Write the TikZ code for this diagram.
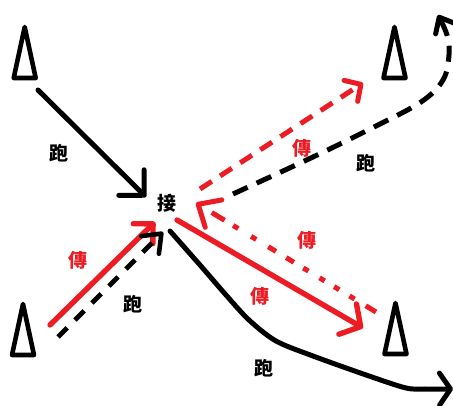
\documentclass[tikz,border=0pt]{standalone}
\usepackage{fontspec}
\usetikzlibrary{arrows.meta}
\newfontfamily\cjk{Noto Sans CJK TC}
\definecolor{sendred}{HTML}{ED1C24}
\tikzset{
  tower/.pic={\draw[line width=4.6pt,line join=round,line cap=round] (0,0) -- (-11,51) -- (11,51) -- cycle;},
  run/.style={font=\cjk\bfseries\fontsize{19}{19}\selectfont,inner sep=0pt},
  send/.style={font=\cjk\bfseries\fontsize{19}{19}\selectfont,text=sendred,inner sep=0pt},
  runline/.style={line width=5pt,black,line cap=round},
  sendline/.style={line width=5.4pt,sendred,line cap=round},
  rundash/.style={line width=4.6pt,black,dash pattern=on 13pt off 11pt},
  senddash/.style={line width=5pt,sendred,dash pattern=on 14pt off 10pt},
  barb/.style 2 args={-{Straight Barb[length=#1,width=#2,round]}}
}
\begin{document}
\begin{tikzpicture}[x=1pt,y=-1pt]
  \useasboundingbox (0,0) rectangle (453,406);

  % Towers
  \pic (towertl) at (24.7,27) {tower};
  \pic (towertr) at (394.5,27) {tower};
  \pic (towerbl) at (23,304) {tower};
  \pic (towerbr) at (395.5,303) {tower};

  \node[run] (recv) at (167,203) {接};

  \coordinate (tlstart) at (38,90);
  \coordinate (tlend) at (146,197);
  \coordinate (blsend) at (50,325);
  \coordinate (blsendend) at (155,222);
  \coordinate (blrun) at (58,337);
  \coordinate (blrunend) at (163,232);
  \coordinate (trsend) at (200,189);
  \coordinate (trsendend) at (363,83);
  \coordinate (trrun) at (233,194);
  \coordinate (trrunend) at (438,15);
  \coordinate (brsend) at (177,220);
  \coordinate (brsendend) at (363,328);
  \coordinate (brback) at (376,312);
  \coordinate (brbackend) at (196,203);
  \coordinate (brrun) at (170,231);
  \coordinate (brrunend) at (453,389);

  \draw[runline,barb={18pt}{36pt}] (tlstart) -- (tlend);
  \draw[sendline,barb={14pt}{28pt}] (blsend) -- (blsendend);
  \draw[rundash,barb={16pt}{25pt}] (blrun) -- (blrunend);
  \draw[senddash,barb={12pt}{25pt}] (trsend) -- (trsendend);
  \draw[rundash,line width=5pt,dash pattern=on 16pt off 10pt,barb={13pt}{22pt}] plot[smooth,tension=0.6] coordinates {(trrun) (313,157) (372,128) (421,102) (443,80) (449,55) (447,35) (trrunend)};
  \draw[sendline,barb={15pt}{35pt}] (brsend) -- (brsendend);
  \draw[senddash,dash pattern=on 12pt off 13pt on 6pt off 12pt on 6pt off 11pt on 6pt off 13pt on 6pt off 11pt on 9pt off 12pt on 9pt off 14pt on 6pt off 15pt on 6pt off 10pt on 15pt off 40pt,barb={18pt}{32pt}] (brback) -- (brbackend);
  \draw[runline,barb={11pt}{32pt}] plot[smooth,tension=0.5] coordinates {(brrun) (200,265) (226,295) (249,320) (276,341) (313,356) (369,376) (406,388) (425,389) (brrunend)};

  % Labels
  \node[run] (runtl) at (59,153) {跑};
  \node[run] (runtr) at (366,163) {跑};
  \node[run] (runbl) at (133,304) {跑};
  \node[run] (runbr) at (264,368) {跑};
  \node[send] (sendtr) at (302,148) {傳};
  \node[send] (sendbl) at (78,260) {傳};
  \node[send] (sendback) at (307,240) {傳};
  \node[send] (sendbr) at (260,296) {傳};
\end{tikzpicture}
\end{document}
